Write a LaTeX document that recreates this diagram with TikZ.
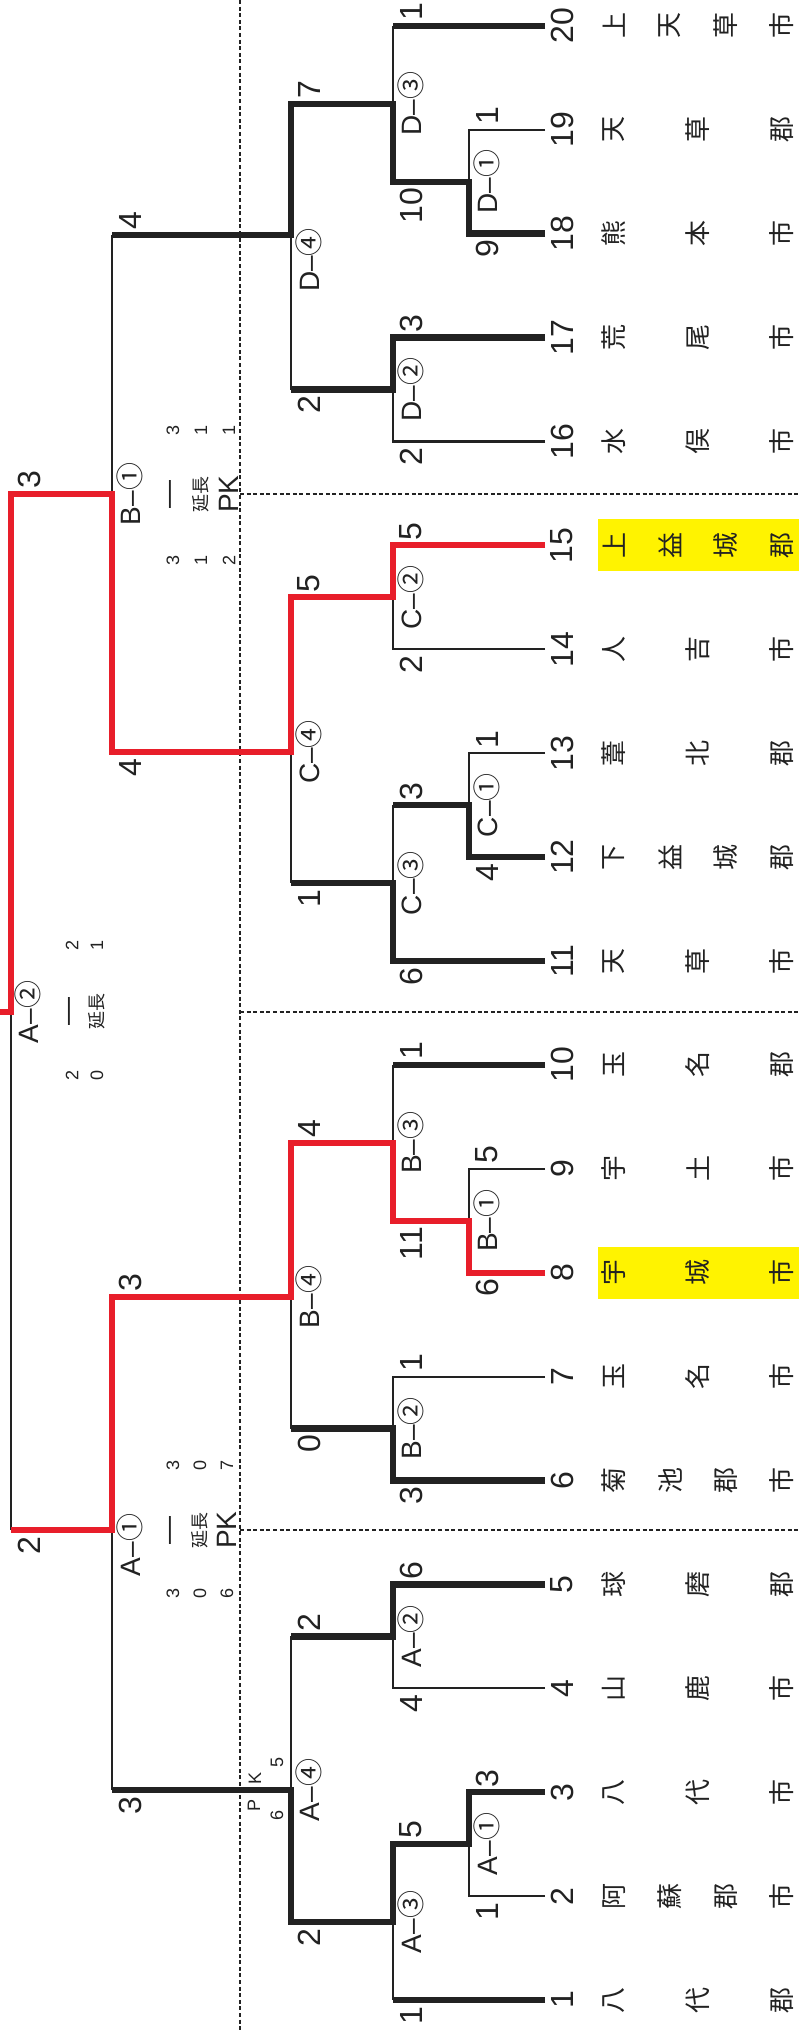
\documentclass[tikz,border=0pt]{standalone}
\usepackage{fontspec}
\setmainfont{Liberation Sans}
\newfontfamily\jp{Noto Sans CJK JP}
\usepackage{xcolor}
\definecolor{ink}{RGB}{34,34,34}
\definecolor{winred}{RGB}{232,30,42}
\definecolor{hlyellow}{RGB}{255,243,0}

\tikzset{
  lose/.style={line width=2.2pt, draw=ink},
  win/.style={line width=6.5pt, draw=ink},
  redwin/.style={line width=6pt, draw=winred},
  divider/.style={line width=2.6pt, draw=ink, dash pattern=on 4pt off 2.6pt},
  num/.style={rotate=90, inner sep=0pt, text=ink, font=\fontsize{32}{32}\selectfont},
  mlbl/.style={rotate=90, inner sep=0pt, text=ink, font=\fontsize{28}{28}\selectfont},
  sc up/.style={xshift=18pt, yshift=5pt, rotate=90, anchor=west, inner sep=0pt, text=ink, font=\fontsize{32}{32}\selectfont},
  sc dn/.style={xshift=18pt, yshift=-6pt, rotate=90, anchor=east, inner sep=0pt, text=ink, font=\fontsize{32}{32}\selectfont},
  tnum/.style={rotate=90, inner sep=0pt, text=ink, font=\fontsize{18}{18}\selectfont},
  tjp/.style={rotate=90, inner sep=0pt, text=ink, font=\jp\fontsize{18}{18}\selectfont},
  tbig/.style={rotate=90, inner sep=0pt, text=ink, font=\fontsize{28}{28}\selectfont},
  cname/.style={rotate=90, inner sep=0pt, text=ink, font=\jp\fontsize{26}{26}\selectfont},
  hl/.style={fill=hlyellow},
}

\begin{document}
\begin{tikzpicture}[x=1pt, y=-1pt]
\useasboundingbox (0,0) rectangle (799,2031);
\fill[white] (0,0) rectangle (799,2031);

% team ends
\foreach \i in {1,...,20}
  \coordinate (t\i) at (545,{2000-(\i-1)*103.9});

% match points
\coordinate (a1) at (469,1844);
\coordinate (a3) at (393,1922);
\coordinate (a2) at (393,1636.4);
\coordinate (a4) at (291,1790);
\coordinate (b1) at (469,1220.8);
\coordinate (b3) at (393,1142.8);
\coordinate (b2) at (393,1428.5);
\coordinate (b4) at (291,1297);
\coordinate (c1) at (469,805.2);
\coordinate (c3) at (393,883.1);
\coordinate (c2) at (393,597.4);
\coordinate (c4) at (291,752);
\coordinate (d1) at (469,181.8);
\coordinate (d3) at (393,103.8);
\coordinate (d2) at (393,389.6);
\coordinate (d4) at (291,235);
\coordinate (sa) at (112,1530);
\coordinate (sb) at (112,494);
\coordinate (fin) at (11,1012);
\coordinate (champ) at (0,1012);

% block dividers
\draw[divider] (240,0) -- (240,2031);
\foreach \yy in {494,1012,1530}
  \draw[divider] (240,\yy) -- (799,\yy);

% highlights
\fill[hl] ([xshift=53pt,yshift=26pt]t8) rectangle ([xshift=254pt,yshift=-26pt]t8);
\fill[hl] ([xshift=53pt,yshift=26pt]t15) rectangle ([xshift=254pt,yshift=-26pt]t15);

% losing lines
\draw[lose] (t2) -- (a1 |- t2) -- (a1);
\draw[lose] (t4) -- (a2 |- t4) -- (a2);
\draw[lose] (a3) -- (a3 |- t1);
\draw[lose] (a4 |- a2) -- (a4);
\draw[lose] (t7) -- (b2 |- t7) -- (b2);
\draw[lose] (t9) -- (b1 |- t9) -- (b1);
\draw[lose] (b3 |- t10) -- (b3);
\draw[lose] (b4) -- (b4 |- b2);
\draw[lose] (sa) -- (sa |- a4);
\draw[lose] (fin) -- (fin |- sa);
\draw[lose] (t13) -- (c1 |- t13) -- (c1);
\draw[lose] (c3 |- c1) -- (c3);
\draw[lose] (c4) -- (c4 |- c3);
\draw[lose] (t14) -- (c2 |- t14) -- (c2);
\draw[lose] (sb |- d4) -- (sb);
\draw[lose] (t16) -- (d2 |- t16) -- (d2);
\draw[lose] (d4) -- (d4 |- d2);
\draw[lose] (t19) -- (d1 |- t19) -- (d1);
\draw[lose] (d3 |- t20) -- (d3);

% winning lines
\draw[win] (t1) -- (a3 |- t1);
\draw[win] (t3) -- (a1 |- t3) -- (a1) -- (a3 |- a1) -- (a3) -- (a4 |- a3) -- (a4) -- (sa |- a4);
\draw[win] (t5) -- (a2 |- t5) -- (a2) -- (a4 |- a2);
\draw[win] (t6) -- (b2 |- t6) -- (b2) -- (b4 |- b2);
\draw[win] (t10) -- (b3 |- t10);
\draw[win] (t11) -- (c3 |- t11) -- (c3) -- (c4 |- c3);
\draw[win] (t12) -- (c1 |- t12) -- (c1) -- (c3 |- c1);
\draw[win] (t17) -- (d2 |- t17) -- (d2) -- (d4 |- d2);
\draw[win] (t18) -- (d1 |- t18) -- (d1) -- (d3 |- d1) -- (d3) -- (d4 |- d3) -- (d4) -- (sb |- d4);
\draw[win] (t20) -- (d3 |- t20);

% finalists
\draw[redwin] (t8) -- (b1 |- t8) -- (b1) -- (b3 |- b1) -- (b3) -- (b4 |- b3) -- (b4) -- (sa |- b4) -- (sa) -- (fin |- sa);
\draw[redwin] (t15) -- (c2 |- t15) -- (c2) -- (c4 |- c2) -- (c4) -- (sb |- c4) -- (sb) -- (fin |- sb) -- (fin) -- (champ);

% team numbers and names
\foreach \i in {1,...,20}
  \node[num] (n\i) at ([xshift=17pt]t\i) {\i};
\foreach \i/\cnt/\nm in {1/3/{八,代,郡}, 2/4/{阿,蘇,郡,市}, 3/3/{八,代,市}, 4/3/{山,鹿,市},
    5/3/{球,磨,郡}, 6/4/{菊,池,郡,市}, 7/3/{玉,名,市}, 8/3/{宇,城,市}, 9/3/{宇,土,市},
    10/3/{玉,名,郡}, 11/3/{天,草,市}, 12/4/{下,益,城,郡}, 13/3/{葦,北,郡}, 14/3/{人,吉,市},
    15/4/{上,益,城,郡}, 16/3/{水,俣,市}, 17/3/{荒,尾,市}, 18/3/{熊,本,市}, 19/3/{天,草,郡},
    20/4/{上,天,草,市}}
  \foreach \c [count=\k] in \nm
    \node[xshift={69+(\k-1)*168/(\cnt-1)}, cname] (nm\i-\k) at (t\i) {\c};

% match labels
\node[xshift=18pt, mlbl] (lA1) at (a1) {A–{\jp ①}};
\node[xshift=18pt, mlbl] (lA2) at (a2) {A–{\jp ②}};
\node[xshift=18pt, mlbl] (lA3) at (a3) {A–{\jp ③}};
\node[xshift=18pt, mlbl] (lA4) at (a4) {A–{\jp ④}};
\node[xshift=18pt, mlbl] (lB1) at (b1) {B–{\jp ①}};
\node[xshift=18pt, mlbl] (lB2) at (b2) {B–{\jp ②}};
\node[xshift=18pt, mlbl] (lB3) at (b3) {B–{\jp ③}};
\node[xshift=18pt, mlbl] (lB4) at (b4) {B–{\jp ④}};
\node[xshift=18pt, mlbl] (lC1) at (c1) {C–{\jp ①}};
\node[xshift=18pt, mlbl] (lC2) at (c2) {C–{\jp ②}};
\node[xshift=18pt, mlbl] (lC3) at (c3) {C–{\jp ③}};
\node[xshift=18pt, mlbl] (lC4) at (c4) {C–{\jp ④}};
\node[xshift=18pt, mlbl] (lD1) at (d1) {D–{\jp ①}};
\node[xshift=18pt, mlbl] (lD2) at (d2) {D–{\jp ②}};
\node[xshift=18pt, mlbl] (lD3) at (d3) {D–{\jp ③}};
\node[xshift=18pt, yshift=-25pt, mlbl] (lD4) at (d4) {D–{\jp ④}};
\node[xshift=18pt, yshift=-15pt, mlbl] (lSA) at (sa) {A–{\jp ①}};
\node[xshift=18pt, mlbl] (lSB) at (sb) {B–{\jp ①}};
\node[xshift=17pt, mlbl] (lF) at (fin) {A–{\jp ②}};

% scores, block A
\node[sc up] (sc3) at (a1 |- t3) {3};
\node[sc dn] (sc2) at (a1 |- t2) {1};
\node[sc up] (scA1) at (a3 |- a1) {5};
\node[sc dn] (sc1) at (a3 |- t1) {1};
\node[sc up] (sc5) at (a2 |- t5) {6};
\node[sc dn] (sc4) at (a2 |- t4) {4};
\node[sc up] (scA2) at (a4 |- a2) {2};
\node[sc dn] (scA3) at (a4 |- a3) {2};
\node[sc up] (scB4) at (sa |- b4) {3};
\node[sc dn] (scA4) at (sa |- a4) {3};
% block B
\node[sc up] (sc7) at (b2 |- t7) {1};
\node[sc dn] (sc6) at (b2 |- t6) {3};
\node[sc up] (sc9) at (b1 |- t9) {5};
\node[sc dn] (sc8) at (b1 |- t8) {6};
\node[sc up] (sc10) at (b3 |- t10) {1};
\node[sc dn] (scB1) at (b3 |- b1) {11};
\node[sc up] (scB3) at (b4 |- b3) {4};
\node[sc dn] (scB2) at (b4 |- b2) {0};
% block C
\node[sc up] (sc13) at (c1 |- t13) {1};
\node[sc dn] (sc12) at (c1 |- t12) {4};
\node[sc up] (scC1) at (c3 |- c1) {3};
\node[sc dn] (sc11) at (c3 |- t11) {6};
\node[sc up] (sc15) at (c2 |- t15) {5};
\node[sc dn] (sc14) at (c2 |- t14) {2};
\node[sc up] (scC2) at (c4 |- c2) {5};
\node[sc dn] (scC3) at (c4 |- c3) {1};
\node[sc up] (scD4) at (sb |- d4) {4};
\node[sc dn] (scC4) at (sb |- c4) {4};
% block D
\node[sc up] (sc20) at (d3 |- t20) {1};
\node[sc dn] (scD1) at (d3 |- d1) {10};
\node[sc up] (sc19) at (d1 |- t19) {1};
\node[sc dn] (sc18) at (d1 |- t18) {9};
\node[sc up] (sc17) at (d2 |- t17) {3};
\node[sc dn] (sc16) at (d2 |- t16) {2};
\node[sc up] (scD3) at (d4 |- d3) {7};
\node[sc dn] (scD2) at (d4 |- d2) {2};
% final
\node[sc up] (scSB) at (fin |- sb) {3};
\node[sc dn] (scSA) at (fin |- sa) {2};

% extra time / PK breakdowns
\node[tnum] (xb1) at (173,430) {3};
\node[tnum] (xb2) at (201,430) {1};
\node[tnum] (xb3) at (229,430) {1};
\node[tbig] (xb4) at (173,494) {—};
\node[tjp]  (xb5) at (201,494) {延長};
\node[tbig] (xb6) at (229,494) {PK};
\node[tnum] (xb7) at (173,560) {3};
\node[tnum] (xb8) at (201,560) {1};
\node[tnum] (xb9) at (229,560) {2};

\node[tnum] (xa1) at (173,1465) {3};
\node[tnum] (xa2) at (200,1465) {0};
\node[tnum] (xa3) at (227,1465) {7};
\node[tbig] (xa4) at (173,1530) {—};
\node[tjp]  (xa5) at (200,1530) {延長};
\node[tbig] (xa6) at (227,1530) {PK};
\node[tnum] (xa7) at (173,1593) {3};
\node[tnum] (xa8) at (200,1593) {0};
\node[tnum] (xa9) at (227,1593) {6};

\node[tnum] (xf1) at (72,945) {2};
\node[tnum] (xf2) at (97,945) {1};
\node[tbig] (xf3) at (72,1011) {—};
\node[tjp]  (xf4) at (97,1011) {延長};
\node[tnum] (xf5) at (72,1075) {2};
\node[tnum] (xf6) at (97,1075) {0};

\node[tnum] (pkK) at (255,1778) {K};
\node[tnum] (pkP) at (254,1805) {P};
\node[tnum] (pk5) at (277,1762) {5};
\node[tnum] (pk6) at (277,1815) {6};
\end{tikzpicture}
\end{document}
